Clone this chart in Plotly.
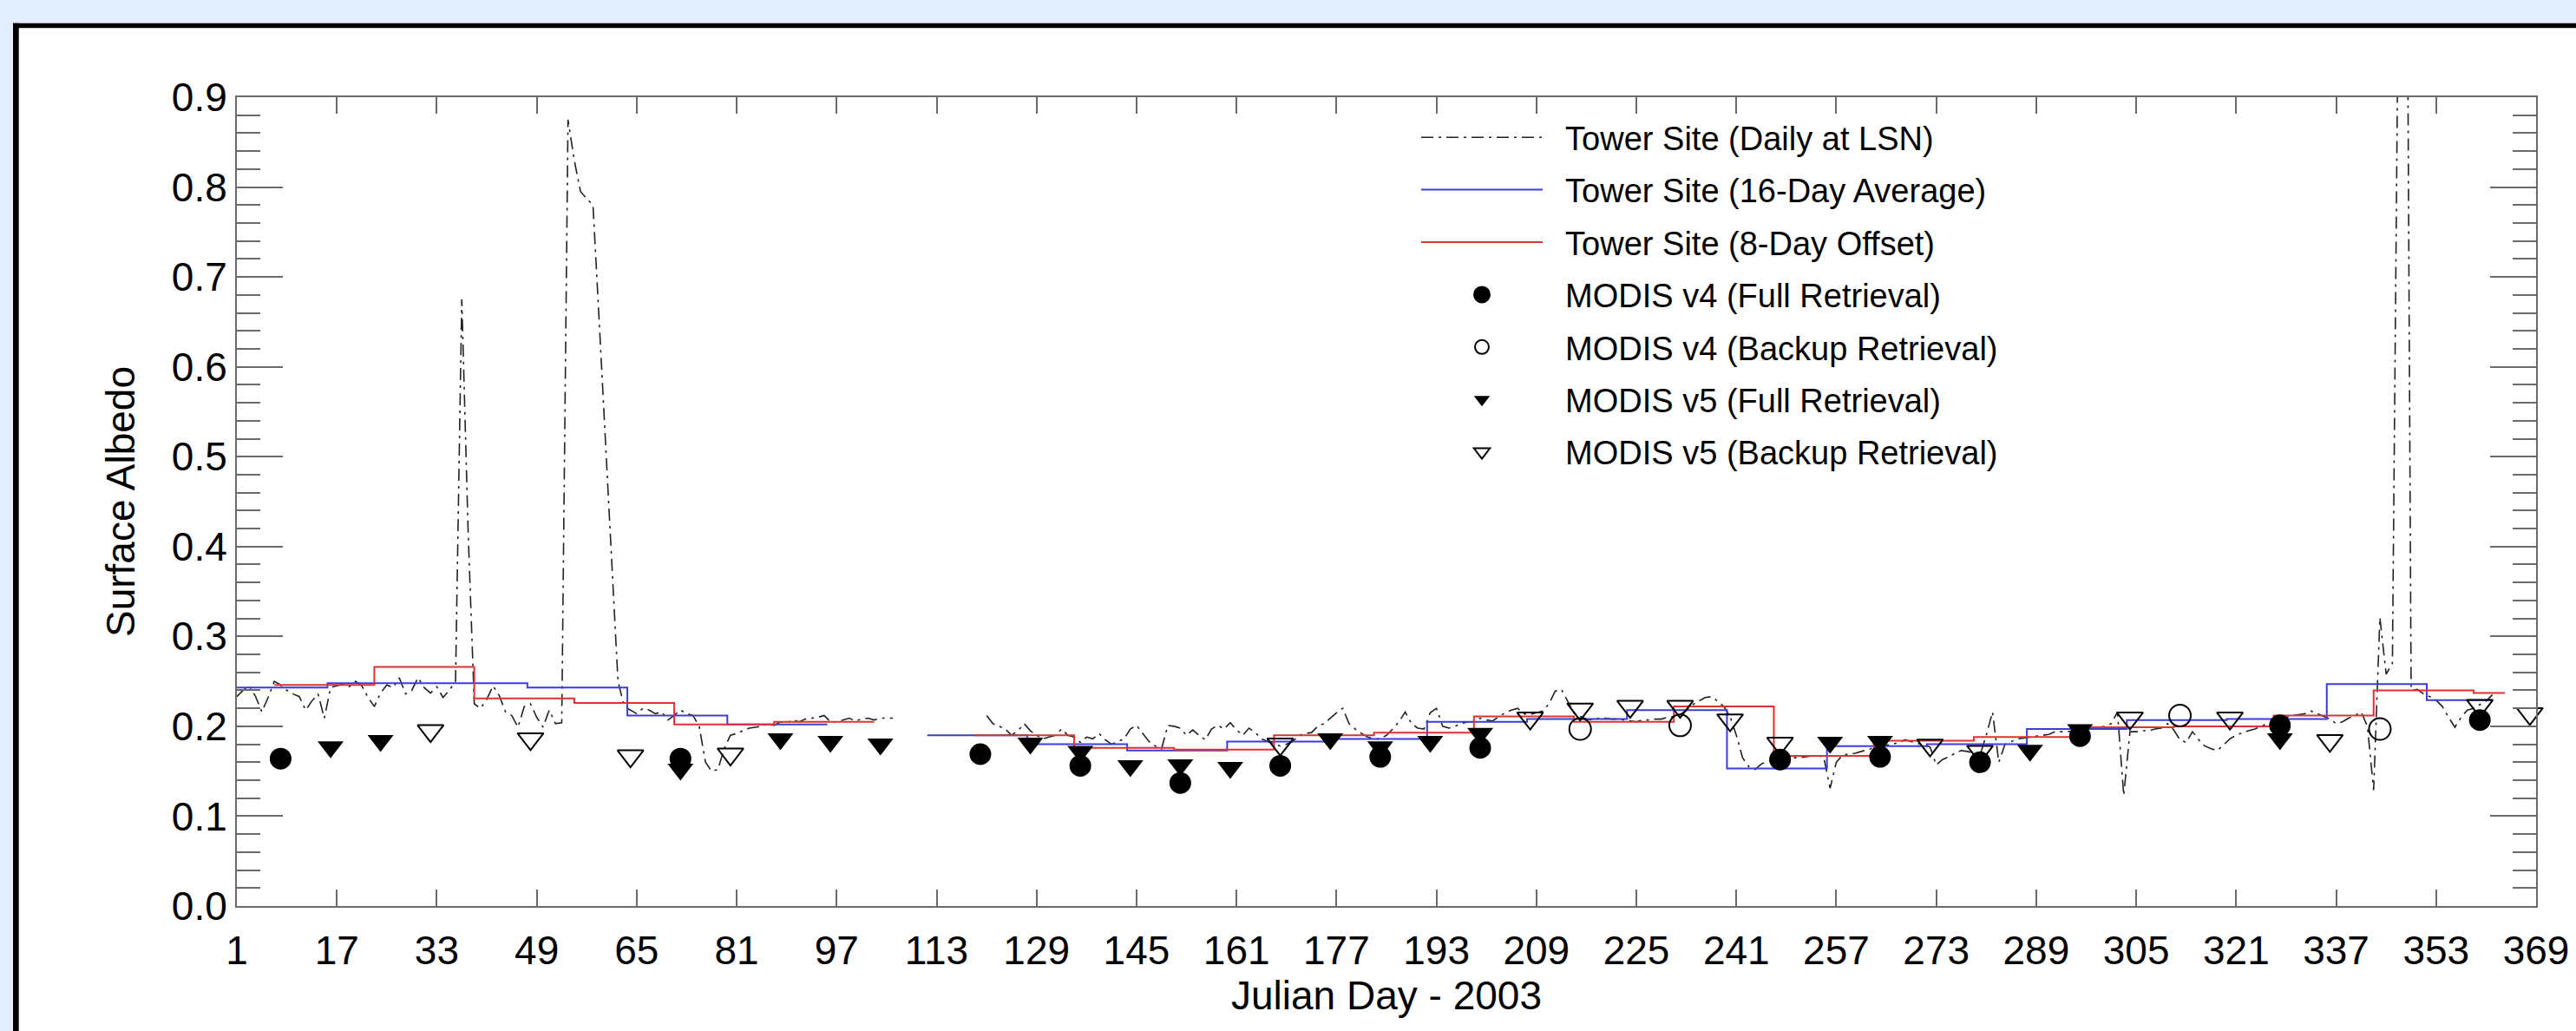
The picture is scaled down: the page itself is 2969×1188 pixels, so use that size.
import plotly.graph_objects as go

# ---------------- data ----------------
# Tower site daily albedo at local solar noon (days 1..362, None = no data)
DAILY_DAY = list(range(1, 363))
DAILY_ALB = (
    [0.233, 0.240, 0.245, 0.233, 0.216, 0.232, 0.250, 0.246, 0.240, 0.236] +
    [0.233, 0.218, 0.228, 0.236, 0.209, 0.243, 0.245, 0.247, 0.244, 0.250] +
    [0.245, 0.232, 0.222, 0.237, 0.246, 0.243, 0.254, 0.236, 0.240, 0.254] +
    [0.243, 0.237, 0.244, 0.232, 0.240, 0.250, 0.675, 0.420, 0.225, 0.220] +
    [0.230, 0.245, 0.234, 0.216, 0.212, 0.199, 0.222, 0.225, 0.210, 0.199] +
    [0.218, 0.203, 0.204, 0.875, 0.830, 0.795, 0.787, 0.780, 0.650, 0.520] +
    [0.385, 0.250, 0.222, 0.218, 0.214, 0.220, 0.218, 0.214, 0.216, 0.207] +
    [0.212, 0.218, 0.214, 0.212, 0.200, 0.160, 0.150, 0.152, 0.175, 0.190] +
    [0.192, 0.195, 0.198, 0.199, 0.200, 0.203, 0.201, 0.205, 0.204, 0.207] +
    [0.205, 0.208, 0.209, 0.210, 0.212, 0.205, 0.205, 0.207, 0.209, 0.206] +
    [0.208, 0.209, 0.207, 0.209, 0.209, 0.209, None, None, None, None] +
    [None, None, None, None, None, None, None, None, None, None] +
    [0.212, 0.203, 0.200, 0.197, 0.190, 0.195, 0.203, 0.195, 0.190, 0.186] +
    [0.188, 0.190, 0.197, 0.190, 0.188, 0.182, 0.188, 0.186, 0.192, 0.185] +
    [0.180, 0.183, 0.186, 0.197, 0.201, 0.192, 0.183, 0.178, 0.175, 0.201] +
    [0.200, 0.198, 0.190, 0.196, 0.190, 0.185, 0.197, 0.201, 0.197, 0.204] +
    [0.196, 0.190, 0.198, 0.193, 0.186, 0.183, 0.181, 0.178, 0.180, 0.183] +
    [0.190, 0.192, 0.193, 0.200, 0.203, 0.209, 0.215, 0.220, 0.203, 0.197] +
    [0.192, 0.188, 0.186, 0.186, 0.190, 0.197, 0.205, 0.216, 0.203, 0.198] +
    [0.197, 0.215, 0.220, 0.200, 0.198, 0.200, 0.203, 0.205, 0.205, 0.209] +
    [0.207, 0.206, 0.211, 0.215, 0.218, 0.220, 0.214, 0.213, 0.215, 0.217] +
    [0.225, 0.239, 0.241, 0.228, 0.215, 0.211, 0.208, 0.207, 0.209, 0.209] +
    [0.208, 0.208, 0.207, 0.206, 0.205, 0.207, 0.207, 0.208, 0.208, 0.210] +
    [0.211, 0.213, 0.218, 0.224, 0.228, 0.232, 0.233, 0.228, 0.222, 0.211] +
    [0.190, 0.165, 0.155, 0.152, 0.158, 0.161, 0.162, 0.163, 0.164, 0.165] +
    [0.165, 0.166, 0.167, 0.168, 0.165, 0.131, 0.160, 0.168, 0.169, 0.170] +
    [0.172, 0.174, 0.176, 0.178, 0.179, 0.180, 0.182, 0.185, 0.183, 0.181] +
    [0.179, 0.177, 0.157, 0.163, 0.166, 0.170, 0.173, 0.172, 0.170, 0.168] +
    [0.190, 0.216, 0.160, 0.180, 0.183, 0.186, 0.187, 0.188, 0.189, 0.190] +
    [0.191, 0.194, 0.194, 0.194, 0.195, 0.196, 0.197, 0.197, 0.199, 0.200] +
    [0.203, 0.216, 0.123, 0.194, 0.194, 0.195, 0.195, 0.197, 0.198, 0.203] +
    [0.196, 0.185, 0.182, 0.194, 0.185, 0.178, 0.175, 0.173, 0.180, 0.186] +
    [0.190, 0.193, 0.195, 0.197, 0.200, 0.203, 0.205, 0.208, 0.210, 0.212] +
    [0.213, 0.214, 0.217, 0.214, 0.211, 0.208, 0.203, 0.205, 0.209, 0.212] +
    [0.216, 0.200, 0.129, 0.321, 0.258, 0.270, 1.060, 1.560, 0.240, 0.241] +
    [0.236, 0.233, 0.229, 0.222, 0.210, 0.199, 0.210, 0.218, 0.220, 0.224] +
    [0.228, 0.235]
)

# Tower site 16-day averages (period start/end day, value; None = no data)
AVG16_START = [-0.5, 15.5, 31.5, 47.5, 63.5, 79.5, 95.5, 111.5, 127.5, 143.5, 159.5, 175.5,
               191.5, 207.5, 223.5, 239.5, 255.5, 271.5, 287.5, 303.5, 319.5, 335.5, 351.5]
AVG16_END = [15.5, 31.5, 47.5, 63.5, 79.5, 95.5, 111.5, 127.5, 143.5, 159.5, 175.5, 191.5,
             207.5, 223.5, 239.5, 255.5, 271.5, 287.5, 303.5, 319.5, 335.5, 351.5, 362.0]
AVG16_VAL = [0.243, 0.248, 0.248, 0.243, 0.212, 0.202, None, 0.190, 0.180, 0.173, 0.183, 0.186,
             0.205, 0.208, 0.218, 0.153, 0.178, 0.180, 0.197, 0.207, 0.208, 0.247, 0.229]

# Tower site 16-day averages, 8-day offset
OFF8_START = [7, 23, 39, 55, 71, 87, 103, 119, 135, 151, 167, 183,
              199, 215, 231, 247, 263, 279, 295, 311, 327, 343, 359]
OFF8_END = [23, 39, 55, 71, 87, 103, 119, 135, 151, 167, 183, 199,
            215, 231, 247, 263, 279, 295, 311, 327, 343, 359, 364]
OFF8_VAL = [0.246, 0.266, 0.231, 0.226, 0.202, 0.205, None, 0.190, 0.176, 0.174, 0.190, 0.193,
            0.211, 0.205, 0.222, 0.167, 0.184, 0.188, 0.199, 0.200, 0.212, 0.240, 0.237]

# MODIS retrievals
V4_FULL_DAY = [8, 72, 120, 136, 152, 168, 184, 200, 248, 264, 280, 296, 328, 360]
V4_FULL_ALB = [0.164, 0.164, 0.169, 0.156, 0.137, 0.156, 0.166, 0.176, 0.163, 0.166, 0.160, 0.189, 0.201, 0.207]

V4_BACK_DAY = [216, 232, 312, 344]
V4_BACK_ALB = [0.197, 0.201, 0.212, 0.197]

V5_FULL_DAY = [16, 24, 72, 88, 96, 104, 128, 136, 144, 152, 160, 176, 184, 192, 200, 256, 264, 288, 296, 328]
V5_FULL_ALB = [0.177, 0.184, 0.152, 0.186, 0.183, 0.180, 0.181, 0.172, 0.156, 0.157, 0.154, 0.186, 0.177,
               0.183, 0.192, 0.182, 0.183, 0.173, 0.196, 0.186]

V5_BACK_DAY = [32, 48, 64, 80, 168, 208, 216, 224, 232, 240, 248, 272, 280, 304, 320, 336, 360, 368]
V5_BACK_ALB = [0.195, 0.186, 0.167, 0.169, 0.180, 0.209, 0.219, 0.222, 0.222, 0.207, 0.181, 0.179, 0.172,
               0.209, 0.209, 0.184, 0.223, 0.214]

X_TICKS = list(range(1, 370, 16))
Y_TICKS = [0.0, 0.1, 0.2, 0.3, 0.4, 0.5, 0.6, 0.7, 0.8, 0.9]

# ---------------- figure ----------------
W, H = 2969, 1188
ML, MR, MT, MB = 273, 46, 112, 144
PW, PH = W - ML - MR, H - MT - MB
FONT = "Liberation Sans, Arial, Helvetica, sans-serif"
AXC = "#6a6a6a"
PAGE_BLUE = "#e3effc"
GAP = "\u00a0\u00a0"  # space between legend sample and its text


def px_x(p):
    return (p - ML) / PW


def px_y(p):
    return (H - MB - p) / PH


def steps(starts, ends, vals):
    xs, ys = [], []
    for s, e, v in zip(starts, ends, vals):
        if v is None:
            xs.append(None)
            ys.append(None)
            continue
        xs += [s, e]
        ys += [v, v]
    return xs, ys


def band(x0, x1, y0, y1, color):
    return dict(type="rect", xref="paper", yref="paper", layer="below",
                x0=px_x(x0), x1=px_x(x1), y0=px_y(y1), y1=px_y(y0),
                fillcolor=color, line=dict(width=0))


fig = go.Figure()

fig.add_trace(go.Scatter(
    x=DAILY_DAY, y=DAILY_ALB, mode="lines", name=GAP + "Tower Site (Daily at LSN)",
    line=dict(color="#222222", width=1.6, dash="14px,6px,3px,6px"),
    connectgaps=False, legendgroup="a"))

bx, by = steps(AVG16_START, AVG16_END, AVG16_VAL)
fig.add_trace(go.Scatter(
    x=bx, y=by, mode="lines", name=GAP + "Tower Site (16-Day Average)",
    line=dict(color="#3c3cd6", width=2), connectgaps=False, legendgroup="b"))

rx, ry = steps(OFF8_START, OFF8_END, OFF8_VAL)
fig.add_trace(go.Scatter(
    x=rx, y=ry, mode="lines", name=GAP + "Tower Site (8-Day Offset)",
    line=dict(color="#e03232", width=2), connectgaps=False, legendgroup="c"))

fig.add_trace(go.Scatter(
    x=V4_FULL_DAY, y=V4_FULL_ALB, mode="markers", name=GAP + "MODIS v4 (Full Retrieval)",
    marker=dict(symbol="circle", size=21, color="black", line=dict(width=4, color="black")),
    cliponaxis=False, legendgroup="d"))
fig.add_trace(go.Scatter(
    x=V4_BACK_DAY, y=V4_BACK_ALB, mode="markers", name=GAP + "MODIS v4 (Backup Retrieval)",
    marker=dict(symbol="circle-open", size=25, color="black", line=dict(width=2)),
    cliponaxis=False, legendgroup="e"))
fig.add_trace(go.Scatter(
    x=V5_FULL_DAY, y=V5_FULL_ALB, mode="markers", name=GAP + "MODIS v5 (Full Retrieval)",
    marker=dict(symbol="triangle-down", size=26, color="black", line=dict(width=0)),
    cliponaxis=False, legendgroup="f"))
fig.add_trace(go.Scatter(
    x=V5_BACK_DAY, y=V5_BACK_ALB, mode="markers", name=GAP + "MODIS v5 (Backup Retrieval)",
    marker=dict(symbol="triangle-down-open", size=26, color="black", line=dict(width=2)),
    cliponaxis=False, legendgroup="g"))

axis_common = dict(
    showline=True, linecolor=AXC, linewidth=2, mirror="ticks",
    ticks="inside", tickcolor=AXC, tickwidth=2,
    showgrid=False, zeroline=False, layer="above traces",
    tickfont=dict(family=FONT, size=46, color="black"),
)

fig.update_xaxes(
    range=[1, 369], tickmode="array", tickvals=X_TICKS, ticktext=[str(t) for t in X_TICKS],
    ticklen=19, ticklabelstandoff=10,
    title=dict(text="Julian Day - 2003", font=dict(family=FONT, size=46, color="black"), standoff=6),
    **axis_common)
fig.update_yaxes(
    range=[0, 0.9], tickmode="array", tickvals=Y_TICKS, ticktext=["%.1f" % t for t in Y_TICKS],
    ticklen=53,
    minor=dict(ticks="inside", ticklen=27, tickcolor=AXC, tickwidth=2, dtick=0.02, tick0=0,
               tickmode="linear"),
    title=dict(text="Surface Albedo", font=dict(family=FONT, size=46, color="black"), standoff=28),
    **axis_common)

# page frame: light-blue page margin, black panel border on top and left, white panel
shapes = [
    band(0, W, 0, 26.7, PAGE_BLUE),
    band(0, 15, 0, H, PAGE_BLUE),
    band(15, W, 26.7, 32.3, "black"),
    band(15, 21.7, 26.7, H, "black"),
]

fig.update_layout(
    width=W, height=H,
    margin=dict(l=ML, r=MR, t=MT, b=MB, autoexpand=False),
    paper_bgcolor="white", plot_bgcolor="white",
    shapes=shapes,
    showlegend=True,
    legend=dict(
        x=px_x(1633), y=px_y(127), xanchor="left", yanchor="top",
        bgcolor="rgba(0,0,0,0)", borderwidth=0,
        font=dict(family=FONT, size=38, color="black"),
        itemwidth=140, traceorder="grouped", tracegroupgap=8,
    ),
    font=dict(family=FONT, color="black"),
)

fig.write_html(
    "out.html",
    config={"displayModeBar": False},
    post_script="document.body.style.margin='0px';document.body.style.overflow='hidden';",
)
